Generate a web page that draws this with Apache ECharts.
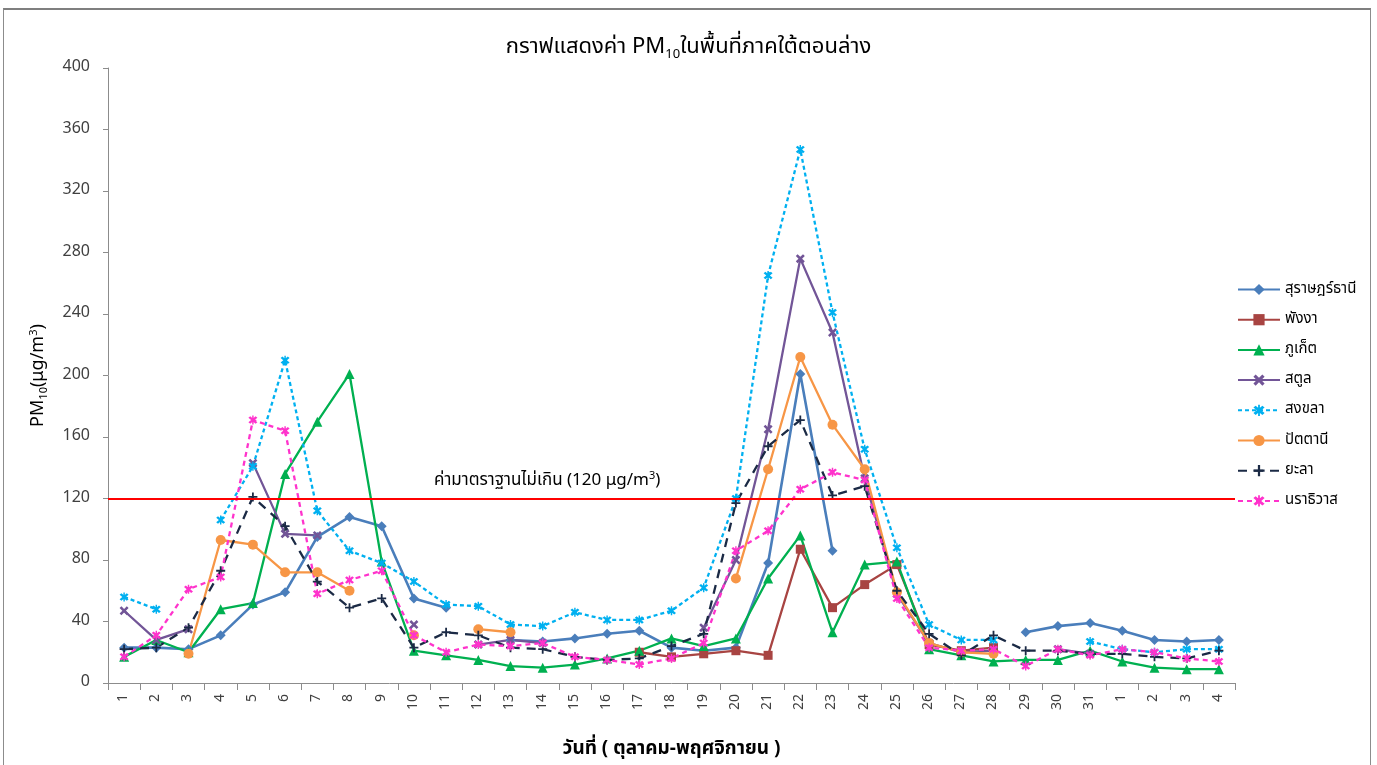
<!DOCTYPE html>
<html>
<head>
<meta charset="utf-8">
<script src="https://cdn.jsdelivr.net/npm/echarts@6/dist/echarts.min.js"></script>
<style>
  html, body { margin: 0; padding: 0; background: #fff; }
  #main { width: 1377px; height: 765px; }
  #frame { position: absolute; left: 3px; top: 8px; width: 1366px; height: 800px;
           border: 1px solid #8c8c8c; border-top: 2px solid #7f7f7f; pointer-events: none; }
</style>
</head>
<body>
<div id="main"></div>
<div id="frame"></div>
<script>
// วันที่ ต.ค. 1-31 และ พ.ย. 1-4
var days = ['1','2','3','4','5','6','7','8','9','10','11','12','13','14','15','16','17','18','19','20',
            '21','22','23','24','25','26','27','28','29','30','31','1','2','3','4'];

var surat = [23,23,22,31,51,59,95,108,102,55,49,null,28,27,29,32,34,23,21,23,
             78,201,86,null,null,null,null,null,33,37,39,34,28,27,28];
var phangnga = [null,null,null,null,null,null,null,null,null,null,null,null,null,null,null,null,20,17,19,21,
                18,87,49,64,77,25,21,23,null,null,null,null,null,null,null];
var phuket = [17,28,20,48,52,136,170,201,79,21,18,15,11,10,12,16,21,29,24,29,
              68,96,33,77,79,22,18,14,15,15,21,14,10,9,9];
var satun = [47,28,35,null,143,97,96,null,null,38,null,25,28,26,null,null,null,null,36,80,
             165,276,228,133,58,26,20,21,null,22,19,null,null,null,null];
var songkhla = [56,48,null,106,141,210,112,86,78,66,51,50,38,37,46,41,41,47,62,120,
                265,347,241,152,88,38,28,28,null,null,27,22,20,22,22];
var pattani = [null,null,19,93,90,72,72,60,null,31,null,35,33,null,null,null,null,null,null,68,
               139,212,168,139,59,26,20,19,null,null,null,null,null,null,null];
var yala = [22,23,36,73,121,102,66,49,55,23,33,31,23,22,17,15,16,24,32,117,
            154,171,122,128,60,32,18,31,21,21,19,19,17,16,21];
var narathiwat = [17,31,61,69,171,164,58,67,73,31,20,25,24,26,17,15,12,16,26,86,
                  99,126,137,132,55,23,21,22,11,22,18,22,20,16,14];

var standard = 120;
var yTicks = { min: 0, max: 400, step: 40 };

var FONT = '"Noto Sans Thai", "Noto Sans Thai UI", Tahoma, "Noto Sans", sans-serif';

var xMark = 'path://M2,0 L5,3 L8,0 L10,2 L7,5 L10,8 L8,10 L5,7 L2,10 L0,8 L3,5 L0,2 Z';
var plusMark = 'path://M4,0 H6 V4 H10 V6 H6 V10 H4 V6 H0 V4 H4 Z';
var starMark = 'path://M2,0 L5,3 L8,0 L10,2 L7,5 L10,8 L8,10 L5,7 L2,10 L0,8 L3,5 L0,2 Z M4.2,-1 H5.8 V11 H4.2 Z';

function mk(name, data, color, symbol, size, dash) {
  return {
    name: name,
    type: 'line',
    data: data,
    symbol: symbol,
    symbolSize: size,
    showSymbol: true,
    connectNulls: false,
    itemStyle: { color: color },
    lineStyle: { color: color, width: 2.3, type: dash || 'solid' },
    emphasis: { disabled: true }
  };
}

var series = [
  mk('สุราษฎร์ธานี', surat, '#4A7EBB', 'diamond', 10),
  mk('พังงา', phangnga, '#A84442', 'rect', 9),
  mk('ภูเก็ต', phuket, '#00B050', 'triangle', 10),
  mk('สตูล', satun, '#725597', xMark, 9),
  mk('สงขลา', songkhla, '#00B0F0', starMark, 9, [4, 3]),
  mk('ปัตตานี', pattani, '#F79646', 'circle', 10),
  mk('ยะลา', yala, '#1B2A45', plusMark, 9, [9, 7]),
  mk('นราธิวาส', narathiwat, '#FF33CC', starMark, 9, [5, 4])
];

series[0].lineStyle.width = 2.6;
series[0].markLine = {
  silent: true,
  symbol: ['none', 'none'],
  lineStyle: { color: '#FF0000', width: 2.2, type: 'solid' },
  label: {
    position: 'insideStartTop',
    distance: 6,
    padding: [0, 0, 0, 320],
    formatter: '{t|ค่ามาตราฐานไม่เกิน (120 μg/m}{s|3}{t|)}',
    rich: {
      t: { fontSize: 17, color: '#000', fontFamily: FONT },
      s: { fontSize: 11, color: '#000', fontFamily: FONT, padding: [0, 0, 10, 0] }
    }
  },
  data: [{ yAxis: standard }]
};

var chart = echarts.init(document.getElementById('main'));
chart.setOption({
  backgroundColor: '#fff',
  animation: false,
  textStyle: { fontFamily: FONT },
  title: {
    text: '{t|กราฟแสดงค่า PM}{s|10}{t|ในพื้นที่ภาคใต้ตอนล่าง}',
    left: 'center',
    top: 31,
    textStyle: {
      fontWeight: 'normal',
      rich: {
        t: { fontSize: 22, color: '#000', fontWeight: 'normal', fontFamily: FONT },
        s: { fontSize: 13, color: '#000', fontWeight: 'normal', fontFamily: FONT, padding: [13, 0, 0, 0] }
      }
    }
  },
  legend: {
    orient: 'vertical',
    left: 1232,
    top: 277,
    itemWidth: 42,
    itemHeight: 14,
    itemGap: 15.2,
    textStyle: { fontSize: 15, color: '#000', fontFamily: FONT },
    data: series.map(function (s) { return s.name; })
  },
  grid: { left: 108, right: 142, top: 68, bottom: 80, containLabel: false },
  xAxis: {
    type: 'category',
    data: days,
    boundaryGap: true,
    name: 'วันที่ ( ตุลาคม-พฤศจิกายน )',
    nameLocation: 'middle',
    nameGap: 58,
    nameTextStyle: { fontSize: 19, fontWeight: 'bold', color: '#000', fontFamily: FONT },
    axisLine: { lineStyle: { color: '#8c8c8c', width: 1 } },
    axisTick: { show: true, alignWithLabel: false, length: 7, lineStyle: { color: '#8c8c8c' } },
    axisLabel: { rotate: 90, interval: 0, margin: 11, fontSize: 14, color: '#404040', fontFamily: FONT },
    splitLine: { show: false }
  },
  yAxis: {
    type: 'value',
    min: yTicks.min,
    max: yTicks.max,
    interval: yTicks.step,
    name: '{t|PM}{s|10}{t|(μg/m}{p|3}{t|)}',
    nameLocation: 'middle',
    nameRotate: 90,
    nameGap: 58,
    nameTextStyle: {
      rich: {
        t: { fontSize: 18, color: '#000', fontFamily: FONT },
        s: { fontSize: 11, color: '#000', fontFamily: FONT, padding: [10, 0, 0, 0] },
        p: { fontSize: 11, color: '#000', fontFamily: FONT, padding: [0, 0, 10, 0] }
      }
    },
    axisLine: { show: true, lineStyle: { color: '#8c8c8c', width: 1 } },
    axisTick: { show: true, length: 5, lineStyle: { color: '#8c8c8c' } },
    axisLabel: { margin: 18, fontSize: 16, color: '#404040', fontFamily: FONT },
    splitLine: { show: false }
  },
  series: series
});
</script>
</body>
</html>
